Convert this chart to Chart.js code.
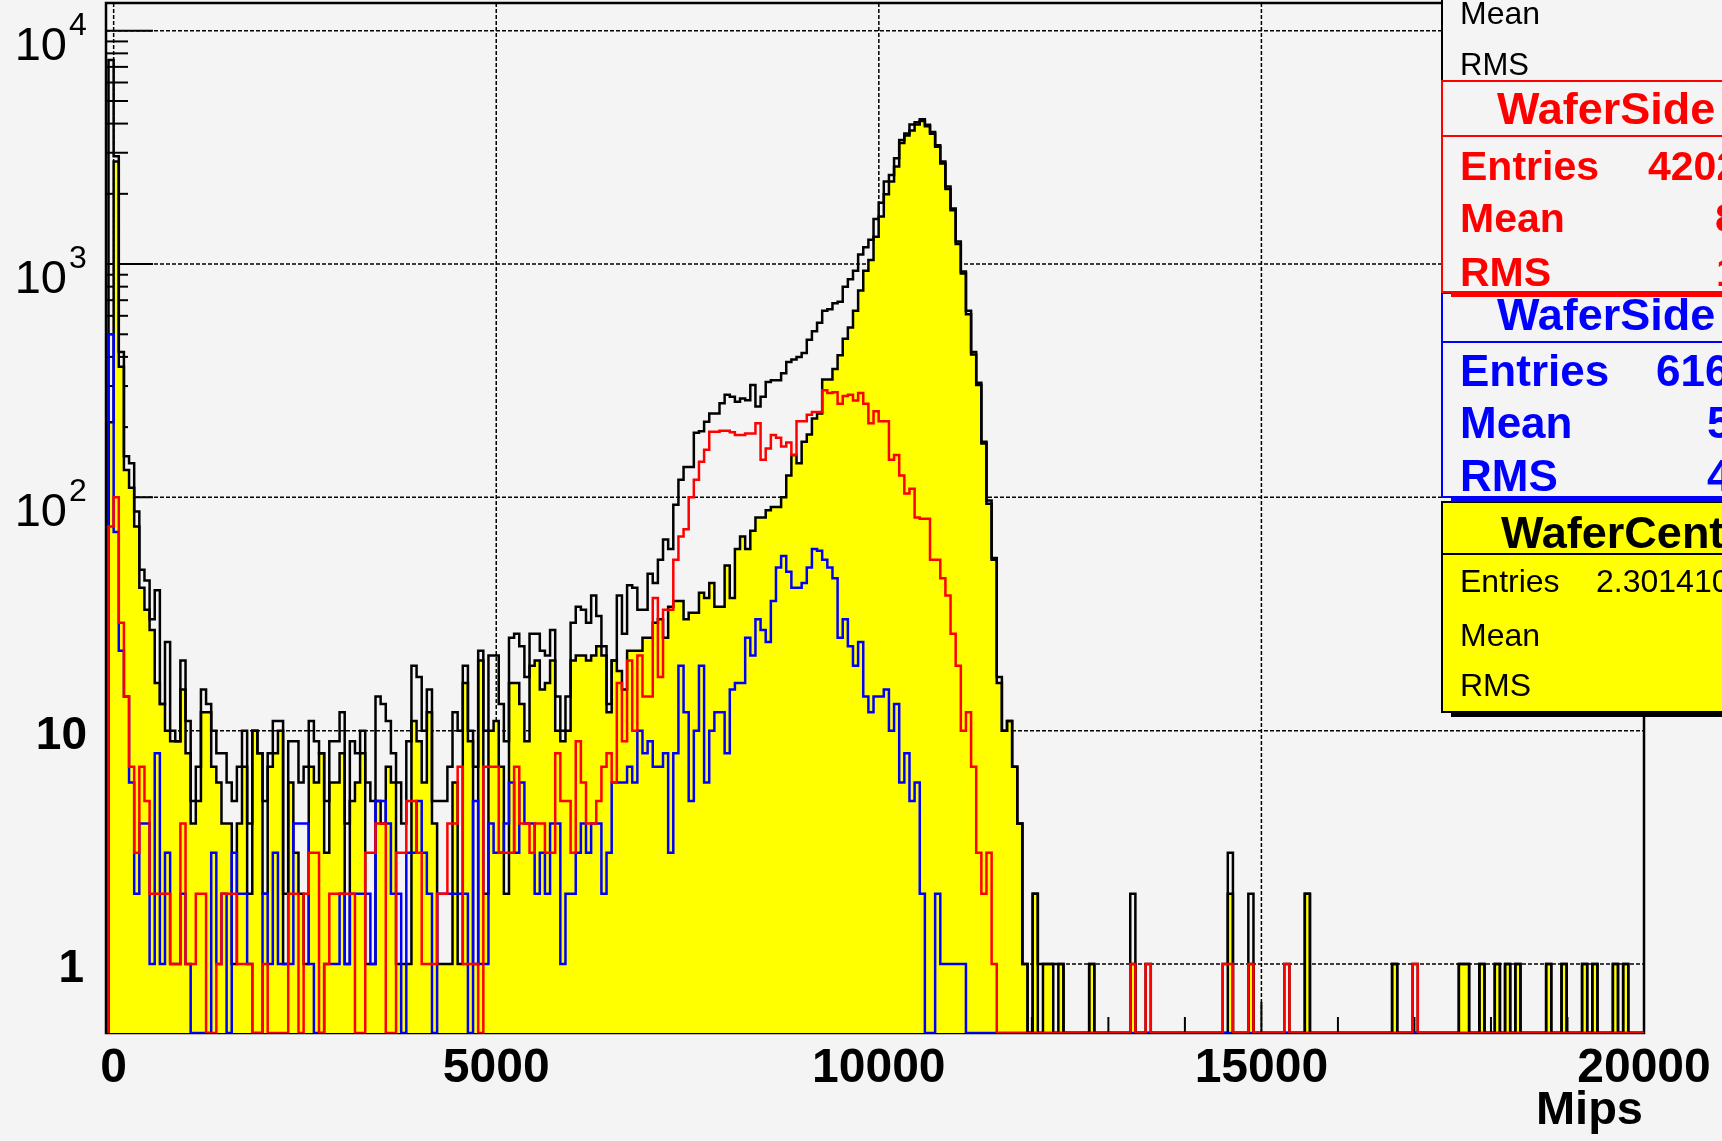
<!DOCTYPE html>
<html lang="en">
<head>
<meta charset="UTF-8">
<title>Mips</title>
<script src="https://cdn.jsdelivr.net/npm/chart.js@4.4.1/dist/chart.umd.min.js"></script>
<style>
  html, body { margin: 0; padding: 0; background: #f4f4f4; }
  #wrap { width: 1722px; height: 1141px; }
</style>
</head>
<body>
<div id="wrap"><canvas id="mips" width="1722" height="1141"></canvas></div>
<script>
// bins of about 67 Mips, the first one just below zero
const binWidth = 67.1;
const firstEdge = -67.1;
const xRange = [-100, 20000];
const yRange = [0.506, 13150];

const xTicksMajor = [0, 5000, 10000, 15000, 20000];
const xTickLabels = ['0', '5000', '10000', '15000', '20000'];
const xTicksMinor = [1000, 2000, 3000, 4000, 6000, 7000, 8000, 9000, 11000, 12000, 13000, 14000, 16000, 17000, 18000, 19000];
const yTicksMajor = [1, 10, 100, 1000, 10000];
const yTickBase = ['1', '10', '10', '10', '10'];
const yTickPower = ['', '', '2', '3', '4'];
const yTicksMinor = [0.6, 0.7, 0.8, 0.9, 2, 3, 4, 5, 6, 7, 8, 9, 20, 30, 40, 50, 60, 70, 80, 90,
  200, 300, 400, 500, 600, 700, 800, 900, 2000, 3000, 4000, 5000, 6000, 7000, 8000, 9000];

// black outline, all wafers
const countsTotal = [
  200, 7500, 2900, 420, 150, 140, 87, 49, 44, 30,
  40, 13, 24, 10, 9, 20, 11, 5, 7, 15,
  13, 10, 8, 8, 6, 5, 7, 10, 4, 10,
  8, 5, 8, 11, 11, 2, 9, 9, 6, 7,
  11, 9, 8, 5, 9, 9, 12, 4, 9, 8,
  10, 6, 5, 14, 13, 11, 8, 6, 4, 9,
  19, 17, 10, 15, 5, 5, 5, 7, 12, 10,
  19, 10, 7, 22, 10, 21, 21, 13, 9, 25,
  26, 23, 17, 26, 26, 22, 21, 27, 14, 10,
  14, 29, 34, 33, 29, 38, 31, 23, 13, 20,
  38, 26, 42, 41, 33, 33, 47, 43, 54, 66,
  60, 93, 119, 135, 135, 189, 192, 211, 229, 229,
  253, 275, 270, 257, 265, 261, 303, 245, 270, 312,
  318, 318, 340, 380, 390, 400, 416, 474, 515, 560,
  630, 640, 680, 690, 800, 860, 935, 1100, 1180, 1270,
  1560, 1830, 2260, 2410, 2840, 3400, 3630, 3960, 4050, 4180,
  3950, 3680, 3230, 2750, 2150, 1730, 1250, 930, 630, 420,
  310, 173, 97, 55, 17, 10, 11, 7, 4, 1,
  0, 2, 1, 1, 1, 1, 1, 0, 0, 0,
  0, 0, 1, 0, 0, 0, 0, 0, 0, 0,
  2, 0, 0, 1, 0, 0, 0, 0, 0, 0,
  0, 0, 0, 0, 0, 0, 0, 0, 1, 3,
  0, 0, 0, 2, 0, 0, 0, 0, 0, 0,
  1, 0, 0, 0, 2, 0, 0, 0, 0, 0,
  0, 0, 0, 0, 0, 0, 0, 0, 0, 0,
  0, 1, 0, 0, 0, 1, 0, 0, 0, 0,
  0, 0, 0, 0, 1, 1, 0, 0, 1, 0,
  0, 1, 0, 1, 0, 1, 0, 0, 0, 0,
  0, 1, 0, 0, 1, 0, 0, 0, 1, 0,
  1, 0, 0, 0, 1, 0, 1, 0, 0, 0,
  0
];

// yellow, WaferCenter
const countsCenter = [
  0, 210, 2750, 363, 131, 110, 75, 41, 33, 27,
  16, 13, 10, 9, 9, 15, 8, 4, 5, 12,
  12, 7, 6, 4, 4, 1, 4, 7, 2, 10,
  8, 2, 7, 8, 10, 1, 6, 3, 2, 1,
  7, 6, 8, 3, 6, 6, 8, 1, 5, 6,
  8, 1, 1, 5, 4, 7, 6, 1, 1, 1,
  11, 9, 6, 12, 4, 1, 1, 1, 6, 1,
  16, 9, 1, 20, 2, 10, 11, 7, 2, 16,
  16, 13, 9, 19, 20, 15, 16, 20, 10, 9,
  10, 20, 21, 21, 20, 21, 23, 21, 12, 20,
  18, 15, 22, 22, 22, 25, 25, 29, 30, 25,
  34, 36, 36, 30, 32, 32, 39, 37, 43, 34,
  34, 51, 37, 60, 68, 60, 72, 82, 82, 88,
  91, 91, 100, 124, 152, 140, 173, 186, 218, 229,
  320, 320, 355, 407, 478, 535, 630, 770, 935, 1040,
  1310, 1600, 1990, 2260, 2620, 3300, 3560, 3740, 3960, 4100,
  3900, 3620, 3180, 2700, 2100, 1700, 1220, 910, 610, 410,
  303, 170, 94, 54, 16, 10, 11, 7, 4, 1,
  0, 2, 0, 1, 1, 0, 1, 0, 0, 0,
  0, 0, 1, 0, 0, 0, 0, 0, 0, 0,
  1, 0, 0, 0, 0, 0, 0, 0, 0, 0,
  0, 0, 0, 0, 0, 0, 0, 0, 0, 2,
  0, 0, 0, 1, 0, 0, 0, 0, 0, 0,
  0, 0, 0, 0, 2, 0, 0, 0, 0, 0,
  0, 0, 0, 0, 0, 0, 0, 0, 0, 0,
  0, 1, 0, 0, 0, 0, 0, 0, 0, 0,
  0, 0, 0, 0, 1, 1, 0, 0, 1, 0,
  0, 1, 0, 1, 0, 1, 0, 0, 0, 0,
  0, 1, 0, 0, 1, 0, 0, 0, 1, 0,
  1, 0, 0, 0, 1, 0, 1, 0, 0, 0,
  0
];

// red, WaferSide
const countsSideRed = [
  0, 75, 100, 29, 14, 7, 3, 7, 5, 2,
  2, 2, 2, 1, 1, 4, 1, 1, 2, 2,
  0, 0, 1, 2, 2, 2, 1, 1, 1, 0,
  0, 1, 0, 0, 0, 0, 2, 2, 0, 2,
  3, 3, 0, 1, 2, 2, 2, 2, 2, 0,
  0, 3, 3, 4, 4, 0, 0, 3, 3, 5,
  5, 3, 1, 1, 1, 2, 2, 4, 4, 7,
  1, 1, 1, 0, 7, 7, 7, 3, 3, 3,
  7, 4, 4, 3, 4, 4, 3, 3, 8, 5,
  5, 3, 9, 6, 4, 4, 5, 7, 8, 6,
  16, 9, 20, 10, 21, 14, 14, 37, 17, 33,
  33, 54, 68, 73, 100, 119, 142, 160, 191, 191,
  193, 193, 190, 185, 185, 188, 188, 208, 145, 162,
  185, 180, 165, 172, 152, 212, 212, 226, 232, 232,
  288, 280, 282, 252, 272, 275, 260, 280, 252, 208,
  234, 212, 212, 145, 152, 124, 104, 109, 82, 81,
  81, 54, 54, 45, 38, 26, 19, 10, 12, 7,
  3, 2, 3, 1, 0, 0, 0, 0, 0, 0,
  0, 0, 0, 0, 0, 0, 0, 0, 0, 0,
  0, 0, 0, 0, 0, 0, 0, 0, 0, 0,
  1, 0, 0, 1, 0, 0, 0, 0, 0, 0,
  0, 0, 0, 0, 0, 0, 0, 0, 1, 1,
  0, 0, 0, 1, 0, 0, 0, 0, 0, 0,
  1, 0, 0, 0, 0, 0, 0, 0, 0, 0,
  0, 0, 0, 0, 0, 0, 0, 0, 0, 0,
  0, 0, 0, 0, 0, 1, 0, 0, 0, 0,
  0, 0, 0, 0, 0, 0, 0, 0, 0, 0,
  0, 0, 0, 0, 0, 0, 0, 0, 0, 0,
  0, 0, 0, 0, 0, 0, 0, 0, 0, 0,
  0, 0, 0, 0, 0, 0, 0, 0, 0, 0,
  0
];

// blue, WaferSide
const countsSideBlue = [
  0, 500, 71, 22, 14, 6, 2, 4, 4, 1,
  8, 1, 3, 1, 1, 2, 1, 0, 0, 0,
  0, 3, 1, 2, 0, 3, 2, 2, 1, 0,
  0, 2, 1, 3, 1, 1, 1, 4, 4, 4,
  1, 0, 0, 1, 1, 1, 2, 1, 2, 2,
  2, 2, 1, 5, 5, 4, 2, 2, 0, 3,
  3, 5, 3, 2, 0, 2, 2, 2, 2, 2,
  2, 0, 5, 1, 1, 4, 3, 3, 4, 6,
  3, 6, 4, 4, 2, 3, 2, 4, 4, 1,
  2, 2, 3, 4, 3, 4, 4, 2, 3, 6,
  6, 6, 7, 6, 10, 8, 9, 7, 7, 8,
  3, 8, 19, 12, 5, 10, 19, 6, 10, 12,
  12, 8, 15, 16, 16, 25, 21, 30, 27, 24,
  36, 50, 56, 48, 41, 41, 43, 50, 60, 59,
  54, 50, 45, 25, 30, 23, 19, 24, 14, 12,
  14, 14, 15, 10, 13, 6, 8, 5, 6, 2,
  0, 0, 2, 1, 1, 1, 1, 1, 0, 0,
  0, 0, 0, 0, 0, 0, 0, 0, 0, 0,
  0, 0, 0, 0, 0, 0, 0, 0, 0, 0,
  0, 0, 0, 0, 0, 0, 0, 0, 0, 0,
  0, 0, 0, 0, 0, 0, 0, 0, 0, 0,
  0, 0, 0, 0, 0, 0, 0, 0, 0, 0,
  0, 0, 0, 0, 0, 0, 0, 0, 0, 0,
  0, 0, 0, 0, 0, 0, 0, 0, 0, 0,
  0, 0, 0, 0, 0, 0, 0, 0, 0, 0,
  0, 0, 0, 0, 0, 0, 0, 0, 0, 0,
  0, 0, 0, 0, 0, 0, 0, 0, 0, 0,
  0, 0, 0, 0, 0, 0, 0, 0, 0, 0,
  0, 0, 0, 0, 0, 0, 0, 0, 0, 0,
  0, 0, 0, 0, 0, 0, 0, 0, 0, 0,
  0
];

const FONT = "'Liberation Sans', Arial, Helvetica, sans-serif";

// histogram outline as stepped points; empty bins sit on the bottom of the frame
function steps(counts) {
  const floor = yRange[0];
  const pts = [{ x: firstEdge, y: floor }];
  counts.forEach((c, i) => pts.push({ x: firstEdge + i * binWidth, y: Math.max(c, floor) }));
  const end = firstEdge + counts.length * binWidth;
  pts.push({ x: end, y: Math.max(counts[counts.length - 1], floor) });
  pts.push({ x: end, y: floor });
  return pts;
}

function seg(ctx, x1, y1, x2, y2) {
  ctx.beginPath();
  ctx.moveTo(x1, y1);
  ctx.lineTo(x2, y2);
  ctx.stroke();
}

function txt(ctx, s, x, y, font, color, align) {
  ctx.font = font;
  ctx.fillStyle = color;
  ctx.textAlign = align || 'left';
  ctx.textBaseline = 'alphabetic';
  ctx.fillText(s, x, y);
}

function statBox(ctx, top, bottom, sep, edge, fill, shadow) {
  const left = 1442, right = 1760;
  ctx.fillStyle = fill;
  ctx.fillRect(left, top, right - left, bottom - top);
  ctx.strokeStyle = edge;
  ctx.lineWidth = 2;
  ctx.strokeRect(left, top, right - left, bottom - top);
  if (sep) seg(ctx, left, sep, right, sep);
  if (shadow) {
    ctx.fillStyle = edge;
    ctx.fillRect(left + 9, bottom, right - left, 5);
  }
}

const rootStyle = {
  id: 'rootStyle',
  beforeDraw(chart) {
    const ctx = chart.ctx;
    ctx.save();
    ctx.fillStyle = '#f4f4f4';
    ctx.fillRect(0, 0, chart.width, chart.height);
    ctx.restore();
  },
  beforeDatasetsDraw(chart) {
    const { ctx, chartArea: a, scales: { x, y } } = chart;
    ctx.save();
    ctx.strokeStyle = '#000';

    // dotted grid
    ctx.lineWidth = 1.5;
    ctx.setLineDash([4, 2]);
    xTicksMajor.forEach(v => {
      const px = x.getPixelForValue(v);
      seg(ctx, px, a.top, px, a.bottom);
    });
    yTicksMajor.forEach(v => {
      const py = y.getPixelForValue(v);
      seg(ctx, a.left, py, a.right, py);
    });
    ctx.setLineDash([]);

    // ticks
    ctx.lineWidth = 2;
    xTicksMajor.forEach(v => {
      const px = x.getPixelForValue(v);
      seg(ctx, px, a.bottom, px, a.bottom - 31);
    });
    xTicksMinor.forEach(v => {
      const px = x.getPixelForValue(v);
      seg(ctx, px, a.bottom, px, a.bottom - 16);
    });
    yTicksMajor.forEach(v => {
      const py = y.getPixelForValue(v);
      seg(ctx, a.left, py, a.left + 47, py);
    });
    yTicksMinor.forEach(v => {
      const py = y.getPixelForValue(v);
      seg(ctx, a.left, py, a.left + 22, py);
    });

    // frame
    ctx.lineWidth = 2.5;
    ctx.strokeRect(a.left, a.top, a.right - a.left, a.bottom - a.top);
    ctx.restore();
  },
  afterDraw(chart) {
    const { ctx, scales: { x, y } } = chart;
    ctx.save();

    // axis labels
    xTicksMajor.forEach((v, i) => {
      txt(ctx, xTickLabels[i], x.getPixelForValue(v), 1082, 'bold 48px ' + FONT, '#000', 'center');
    });
    txt(ctx, 'Mips', 1643, 1124, 'bold 47px ' + FONT, '#000', 'right');
    yTicksMajor.forEach((v, i) => {
      const py = y.getPixelForValue(v);
      if (yTickPower[i]) {
        txt(ctx, yTickBase[i], 67, py + 29, '47px ' + FONT, '#000', 'right');
        txt(ctx, yTickPower[i], 69, py + 4, '32px ' + FONT, '#000', 'left');
      } else {
        txt(ctx, yTickBase[i], yTickBase[i] === '1' ? 84 : 87, py + 18, 'bold 46px ' + FONT, '#000', 'right');
      }
    });

    // statistics boxes on the right
    statBox(ctx, -10, 81, null, '#000', '#f4f4f4', false);
    txt(ctx, 'Mean', 1460, 24, '32px ' + FONT, '#000');
    txt(ctx, 'RMS', 1460, 75, '31px ' + FONT, '#000');

    statBox(ctx, 502, 712, 554, '#000', '#ffff00', true);
    txt(ctx, 'WaferCenter', 1501, 548, 'bold 45px ' + FONT, '#000');
    txt(ctx, 'Entries', 1460, 592, '32px ' + FONT, '#000');
    txt(ctx, '2.301410', 1596, 592, '32px ' + FONT, '#000');
    txt(ctx, 'Mean', 1460, 646, '32px ' + FONT, '#000');
    txt(ctx, 'RMS', 1460, 696, '32px ' + FONT, '#000');

    statBox(ctx, 293, 497, 342, '#0000ff', '#f4f4f4', true);
    txt(ctx, 'WaferSide', 1497, 330, 'bold 45px ' + FONT, '#0000ff');
    txt(ctx, 'Entries', 1460, 386, 'bold 44px ' + FONT, '#0000ff');
    txt(ctx, '616', 1656, 386, 'bold 44px ' + FONT, '#0000ff');
    txt(ctx, 'Mean', 1460, 438, 'bold 44px ' + FONT, '#0000ff');
    txt(ctx, '5', 1707, 438, 'bold 44px ' + FONT, '#0000ff');
    txt(ctx, 'RMS', 1460, 491, 'bold 44px ' + FONT, '#0000ff');
    txt(ctx, '4', 1707, 491, 'bold 44px ' + FONT, '#0000ff');

    statBox(ctx, 81, 292, 136, '#ff0000', '#f4f4f4', true);
    txt(ctx, 'WaferSide', 1497, 124, 'bold 45px ' + FONT, '#ff0000');
    txt(ctx, 'Entries', 1460, 180, 'bold 41px ' + FONT, '#ff0000');
    txt(ctx, '4202', 1648, 180, 'bold 41px ' + FONT, '#ff0000');
    txt(ctx, 'Mean', 1460, 232, 'bold 41px ' + FONT, '#ff0000');
    txt(ctx, '8', 1715, 232, 'bold 41px ' + FONT, '#ff0000');
    txt(ctx, 'RMS', 1460, 286, 'bold 41px ' + FONT, '#ff0000');
    txt(ctx, '1', 1716, 286, 'bold 41px ' + FONT, '#ff0000');

    ctx.restore();
  }
};

const lineBase = { stepped: 'after', pointRadius: 0, borderWidth: 2.5, tension: 0, borderJoinStyle: 'miter' };

new Chart(document.getElementById('mips'), {
  type: 'line',
  data: {
    datasets: [
      Object.assign({ label: 'WaferSide red', data: steps(countsSideRed), borderColor: '#ff0000', fill: false, order: 1 }, lineBase),
      Object.assign({ label: 'WaferSide blue', data: steps(countsSideBlue), borderColor: '#0000ff', fill: false, order: 2 }, lineBase),
      Object.assign({ label: 'All', data: steps(countsTotal), borderColor: '#000000', fill: false, order: 3 }, lineBase),
      Object.assign({ label: 'WaferCenter', data: steps(countsCenter), borderColor: '#000000', backgroundColor: '#ffff00', fill: 'start', order: 4 }, lineBase)
    ]
  },
  options: {
    responsive: false,
    animation: false,
    events: [],
    layout: { padding: { left: 106, right: 78, top: 3, bottom: 108 } },
    scales: {
      x: { type: 'linear', min: xRange[0], max: xRange[1], display: false },
      y: { type: 'logarithmic', min: yRange[0], max: yRange[1], display: false, bounds: 'data' }
    },
    plugins: {
      legend: { display: false },
      tooltip: { enabled: false }
    }
  },
  plugins: [rootStyle]
});
</script>
</body>
</html>
